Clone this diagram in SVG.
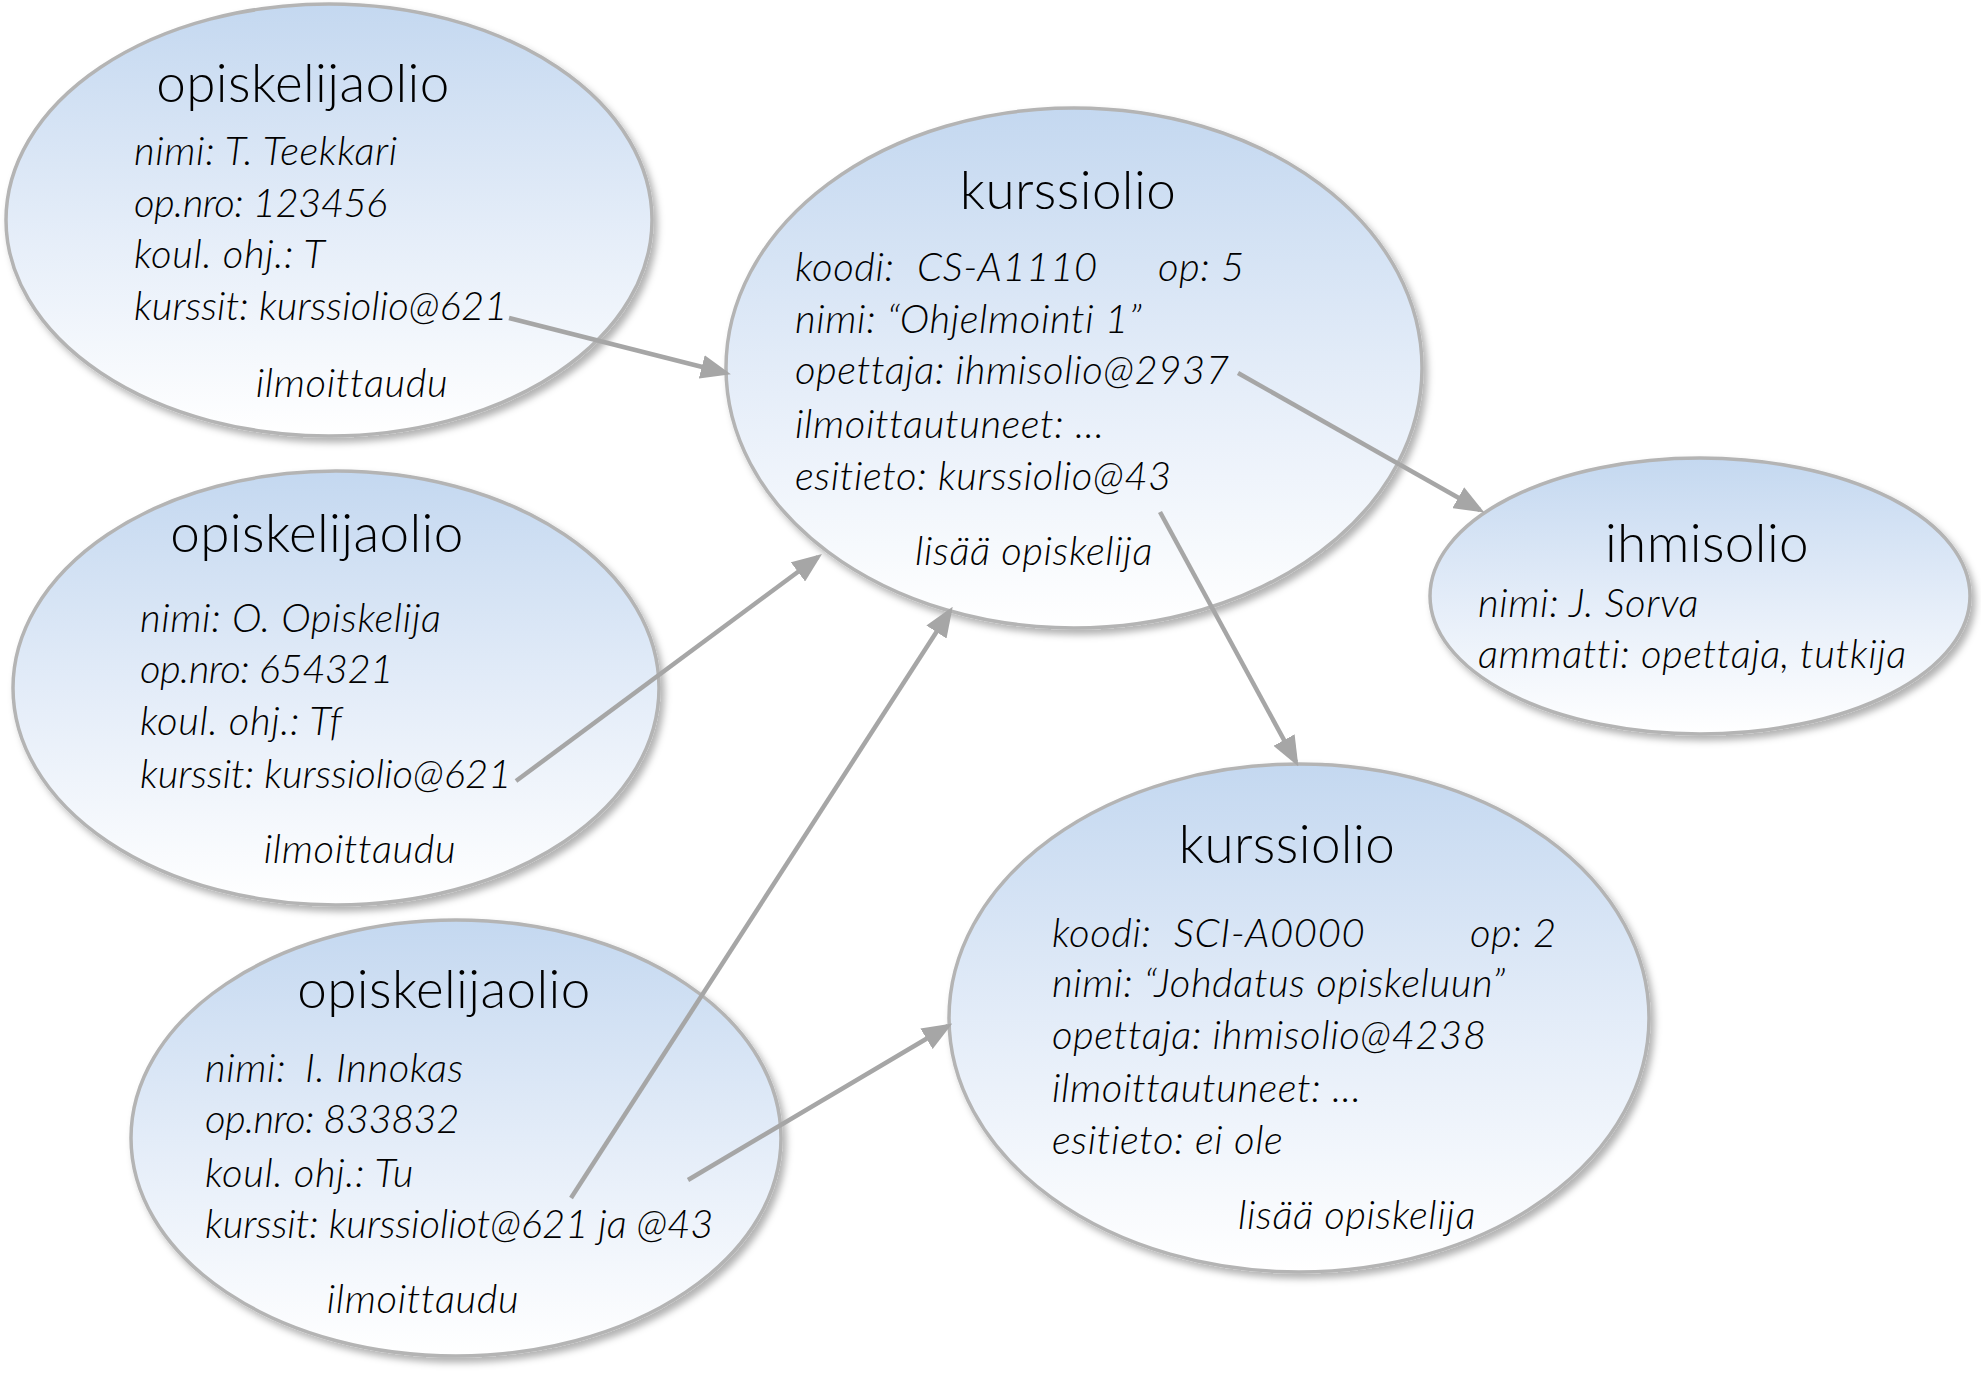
<svg xmlns="http://www.w3.org/2000/svg" width="1981" height="1373" viewBox="0 0 1981 1373">
<defs>
<linearGradient id="fillGrad" x1="0" y1="0" x2="0" y2="1">
<stop offset="0" stop-color="#c4d8f0"/>
<stop offset="0.55" stop-color="#e6eef9"/>
<stop offset="1" stop-color="#ffffff"/>
</linearGradient>
<filter id="shadow" x="-10%" y="-10%" width="125%" height="130%">
<feDropShadow dx="4" dy="5" stdDeviation="3.5" flood-color="#000" flood-opacity="0.3"/>
</filter>
<marker id="arrow" viewBox="0 0 30 24" refX="25" refY="12" markerWidth="30" markerHeight="24" markerUnits="userSpaceOnUse" orient="auto">
<path d="M0,0 L30,12 L0,24 z" fill="#a6a6a6"/>
</marker>
</defs>
<style>
.node ellipse{fill:url(#fillGrad);stroke:#b4b4b4;stroke-width:3.5;filter:url(#shadow)}
.title{font-family:Lato,"Liberation Sans",sans-serif;font-weight:300;font-size:53px;letter-spacing:0.4px;fill:#000;text-anchor:middle}
.attr{font-family:Lato,"Liberation Sans",sans-serif;font-weight:300;font-style:italic;font-size:40px;letter-spacing:0.6px;fill:#000}
.mid{text-anchor:middle}
.conn line{stroke:#a6a6a6;stroke-width:4.5;marker-end:url(#arrow)}
</style>
<rect width="1981" height="1373" fill="#ffffff"/>

<g id="opiskelija1" class="node">
<ellipse cx="329" cy="220" rx="323" ry="216"/>
<text class="title" x="303" y="102">opiskelijaolio</text>
<text class="attr" x="134" y="165">nimi: T. Teekkari</text>
<text class="attr" x="134" y="217" textLength="254">op.nro: 123456</text>
<text class="attr" x="134" y="268">koul. ohj.: T</text>
<text class="attr" x="134" y="320" textLength="374">kurssit: kurssiolio@621</text>
<text class="attr mid" x="352" y="397">ilmoittaudu</text>
</g>

<g id="opiskelija2" class="node">
<ellipse cx="336" cy="688" rx="323" ry="217"/>
<text class="title" x="317" y="552">opiskelijaolio</text>
<text class="attr" x="140" y="632">nimi: O. Opiskelija</text>
<text class="attr" x="140" y="683" textLength="254">op.nro: 654321</text>
<text class="attr" x="140" y="735">koul. ohj.: Tf</text>
<text class="attr" x="140" y="788" textLength="372">kurssit: kurssiolio@621</text>
<text class="attr mid" x="360" y="863">ilmoittaudu</text>
</g>

<g id="opiskelija3" class="node">
<ellipse cx="456" cy="1138" rx="325" ry="218"/>
<text class="title" x="444" y="1008">opiskelijaolio</text>
<text class="attr" x="205" y="1082">nimi:<tspan x="305">I. Innokas</tspan></text>
<text class="attr" x="205" y="1133" textLength="255">op.nro: 833832</text>
<text class="attr" x="205" y="1187">koul. ohj.: Tu</text>
<text class="attr" x="205" y="1238" textLength="509">kurssit: kurssioliot@621 ja @43</text>
<text class="attr mid" x="423" y="1313">ilmoittaudu</text>
</g>

<g id="kurssi621" class="node">
<ellipse cx="1074" cy="368" rx="348" ry="260"/>
<text class="title" x="1068" y="209">kurssiolio</text>
<text class="attr" x="795" y="281">koodi:<tspan x="917">CS-A1110</tspan><tspan x="1158">op: 5</tspan></text>
<text class="attr" x="795" y="333">nimi: “Ohjelmointi 1”</text>
<text class="attr" x="795" y="384">opettaja: ihmisolio@2937</text>
<text class="attr" x="795" y="438">ilmoittautuneet: ...</text>
<text class="attr" x="795" y="490">esitieto: kurssiolio@43</text>
<text class="attr mid" x="1034" y="565">lisää opiskelija</text>
</g>

<g id="ihmisolio" class="node">
<ellipse cx="1700" cy="596" rx="270" ry="138"/>
<text class="title" x="1707" y="562">ihmisolio</text>
<text class="attr" x="1478" y="617">nimi: J. Sorva</text>
<text class="attr" x="1478" y="668">ammatti: opettaja, tutkija</text>
</g>

<g id="kurssi43" class="node">
<ellipse cx="1299" cy="1018" rx="350" ry="254"/>
<text class="title" x="1287" y="863">kurssiolio</text>
<text class="attr" x="1052" y="947">koodi:<tspan x="1174">SCI-A0000</tspan><tspan x="1470">op: 2</tspan></text>
<text class="attr" x="1052" y="997">nimi: “Johdatus opiskeluun”</text>
<text class="attr" x="1052" y="1049">opettaja: ihmisolio@4238</text>
<text class="attr" x="1052" y="1102">ilmoittautuneet: ...</text>
<text class="attr" x="1052" y="1154">esitieto: ei ole</text>
<text class="attr mid" x="1357" y="1229">lisää opiskelija</text>
</g>

<g id="connectors" class="conn">
<line x1="509" y1="318" x2="726" y2="373"/>
<line x1="1238" y1="373" x2="1480" y2="510"/>
<line x1="1160" y1="512" x2="1296" y2="762"/>
<line x1="516" y1="781" x2="818" y2="557"/>
<line x1="571" y1="1198" x2="950" y2="611"/>
<line x1="688" y1="1180" x2="948" y2="1026"/>
</g>
</svg>
